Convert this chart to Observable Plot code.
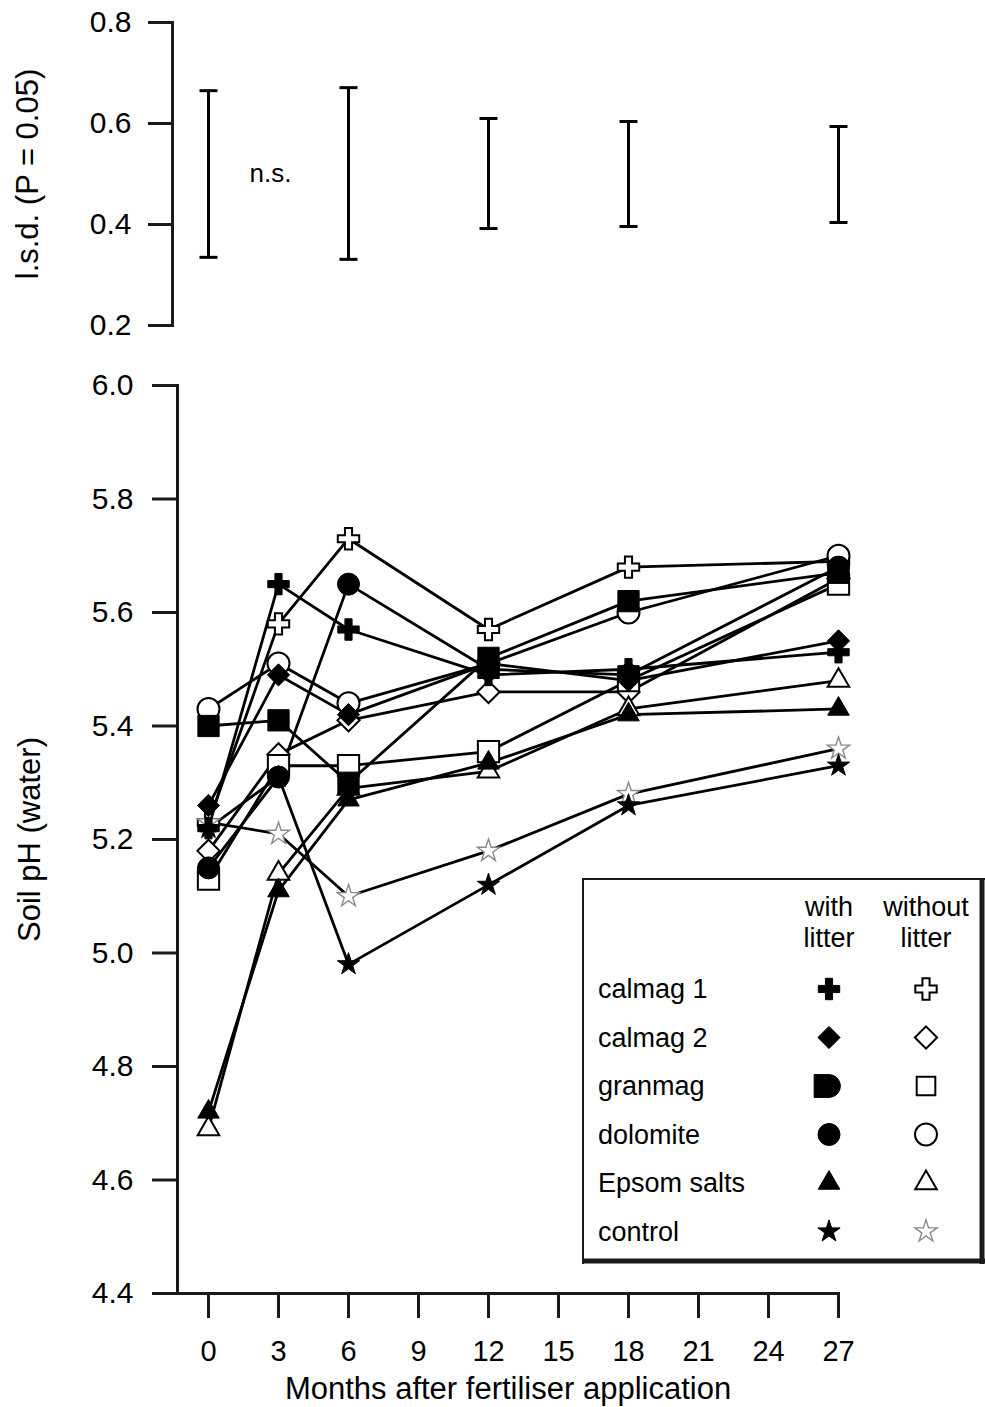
<!DOCTYPE html>
<html><head><meta charset="utf-8">
<script src="https://cdn.jsdelivr.net/npm/d3@7"></script>
<script src="https://cdn.jsdelivr.net/npm/@observablehq/plot@0.6"></script>
<style>
body{margin:0;background:#fff;font-family:"Liberation Sans",Arial,sans-serif;}
#wrap{position:relative;width:985px;height:1407px;overflow:hidden;}
#top{position:absolute;left:0;top:0;}
#bottom{position:absolute;left:0;top:345px;}
#legend{position:absolute;left:582px;top:878px;}
</style></head><body>
<div id="wrap"><div id="top"></div><div id="bottom"></div><div id="legend"></div></div>
<script>
// ---- data ----
const months = [0, 3, 6, 12, 18, 27];
const monthTicks = [0, 3, 6, 9, 12, 15, 18, 21, 24, 27];
const phTicks = [4.4, 4.6, 4.8, 5.0, 5.2, 5.4, 5.6, 5.8, 6.0];
const lsdTicks = [0.2, 0.4, 0.6, 0.8];

const calmag1With     = [5.22, 5.65, 5.57, 5.49, 5.50, 5.53];
const calmag1Without  = [5.23, 5.58, 5.73, 5.57, 5.68, 5.69];
const calmag2With     = [5.26, 5.49, 5.42, 5.51, 5.48, 5.55];
const calmag2Without  = [5.18, 5.35, 5.41, 5.46, 5.46, 5.66];
const granmagWith     = [5.40, 5.41, 5.30, 5.52, 5.62, 5.67];
const granmagWithout  = [5.13, 5.33, 5.33, 5.355, 5.48, 5.65];
const dolomiteWith    = [5.15, 5.31, 5.65, 5.50, 5.49, 5.68];
const dolomiteWithout = [5.43, 5.51, 5.44, 5.51, 5.60, 5.70];
const epsomWith       = [4.72, 5.11, 5.27, 5.335, 5.42, 5.43];
const epsomWithout    = [4.69, 5.14, 5.29, 5.32, 5.43, 5.48];
const controlWith     = [5.22, 5.31, 4.98, 5.12, 5.26, 5.33];
const controlWithout  = [5.23, 5.21, 5.10, 5.18, 5.28, 5.36];

const lsdMonths = [0, 6, 12, 18, 27];
const lsdLow  = [0.335, 0.331, 0.392, 0.396, 0.404];
const lsdHigh = [0.665, 0.671, 0.610, 0.604, 0.594];
const nsMonth = 3, nsValue = 0.5, nsText = "n.s.";

const treatments = ["calmag 1", "calmag 2", "granmag", "dolomite", "Epsom salts", "control"];
const litterHeads = [["with", "litter"], ["without", "litter"]];

// ---- symbols ----
const capSymbol = {draw(ctx, size) { const r = Math.sqrt(size / Math.PI); ctx.moveTo(-r, 0); ctx.lineTo(r, 0); }};
const dSymbol = {draw(ctx, size) {
  const s = Math.sqrt(size / Math.PI) * 0.95;
  ctx.moveTo(-s * 1.3, -s); ctx.lineTo(0, -s); ctx.arc(0, 0, s, -Math.PI / 2, Math.PI / 2); ctx.lineTo(-s * 1.3, s); ctx.closePath();
}};

const open = {fill: "white", stroke: "black", strokeWidth: 2};
const filled = {fill: "black", stroke: "black", strokeWidth: 1};
// drawing order: open markers under filled
const series = [
  {values: calmag1Without, symbol: "cross", r: 9, ...open},
  {values: calmag2Without, symbol: "diamond2", r: 10, ...open},
  {values: granmagWithout, symbol: "square", r: 12, ...open},
  {values: dolomiteWithout, symbol: "circle", r: 11, ...open},
  {values: epsomWithout, symbol: "triangle", r: 8, ...open},
  {values: controlWithout, symbol: "star", r: 7, fill: "white", stroke: "#8a8a8a", strokeWidth: 1.4},
  {values: calmag1With, symbol: "cross", r: 9, ...filled},
  {values: calmag2With, symbol: "diamond2", r: 10, ...filled},
  {values: granmagWith, symbol: "square", r: 12, ...filled},
  {values: dolomiteWith, symbol: "circle", r: 11, ...filled},
  {values: epsomWith, symbol: "triangle", r: 8, ...filled},
  {values: controlWith, symbol: "star", r: 7, ...filled}
];
const rows = series.flatMap((s, i) => s.values.map((v, j) => ({series: i, month: months[j], ph: v})));
const lsd = lsdMonths.map((m, i) => ({month: m, low: lsdLow[i], high: lsdHigh[i]}));

const font = "Liberation Sans, Arial, sans-serif";
const axisColor = "#1a1a1a";

// ---- top panel (l.s.d.) ----
const topPlot = Plot.plot({
  width: 985, height: 345,
  marginLeft: 172, marginRight: 147, marginTop: 22, marginBottom: 20,
  style: {fontFamily: font, background: "white", color: "black", overflow: "visible"},
  x: {domain: [-36 / (630 / 27), 27], axis: null},
  y: {domain: [0.2, 0.8], axis: null},
  marks: [
    Plot.frame({anchor: "left", stroke: axisColor, strokeWidth: 3}),
    Plot.axisY({ticks: lsdTicks, tickSize: 24, tickPadding: 17, tickFormat: ".1f", fontSize: 30, stroke: axisColor, strokeWidth: 3, label: null}),
    Plot.text(["l.s.d. (P = 0.05)"], {frameAnchor: "left", rotate: -90, dx: -144, fontSize: 31, textAnchor: "middle", lineAnchor: "middle"}),
    Plot.ruleX(lsd, {x: "month", y1: "low", y2: "high", stroke: "black", strokeWidth: 3}),
    Plot.dot(lsd, {x: "month", y: "low", symbol: capSymbol, r: 9, stroke: "black", strokeWidth: 3}),
    Plot.dot(lsd, {x: "month", y: "high", symbol: capSymbol, r: 9, stroke: "black", strokeWidth: 3}),
    Plot.text([nsText], {x: nsMonth, y: nsValue, dx: -8, fontSize: 26})
  ]
});
document.getElementById("top").appendChild(topPlot);

// ---- bottom panel (soil pH) ----
const bottomPlot = Plot.plot({
  width: 985, height: 1062,
  marginLeft: 177, marginRight: 147, marginTop: 40, marginBottom: 114,
  style: {fontFamily: font, background: "transparent", color: "black", overflow: "visible"},
  x: {domain: [-31 / (630 / 27), 27], axis: null},
  y: {domain: [4.4, 6.0], axis: null},
  marks: [
    Plot.frame({anchor: "left", stroke: axisColor, strokeWidth: 3}),
    Plot.frame({anchor: "bottom", stroke: axisColor, strokeWidth: 3}),
    Plot.axisY({ticks: phTicks, tickSize: 25, tickPadding: 19, tickFormat: ".1f", fontSize: 30, stroke: axisColor, strokeWidth: 3, label: null}),
    Plot.axisX({ticks: monthTicks, tickSize: 25, tickPadding: 22, fontSize: 29, stroke: axisColor, strokeWidth: 3, label: null}),
    Plot.text(["Soil pH (water)"], {frameAnchor: "left", rotate: -90, dx: -147, fontSize: 31, textAnchor: "middle", lineAnchor: "middle"}),
    Plot.text(["Months after fertiliser application"], {frameAnchor: "bottom", dy: 96, fontSize: 31, textAnchor: "middle", lineAnchor: "middle"}),
    Plot.line(rows, {x: "month", y: "ph", z: "series", stroke: "black", strokeWidth: 2.8}),
    ...series.map((s, i) => Plot.dot(rows.filter(d => d.series === i), {
      x: "month", y: "ph", symbol: s.symbol, r: s.r, fill: s.fill, stroke: s.stroke, strokeWidth: s.strokeWidth
    }))
  ]
});
document.getElementById("bottom").appendChild(bottomPlot);

// ---- legend ----
const W = 403, H = 386;
const svg = d3.select("#legend").append("svg").attr("width", W).attr("height", H)
  .style("font-family", font);
svg.append("rect").attr("x", 1).attr("y", 1).attr("width", W - 5).attr("height", H - 5).attr("fill", "white");
svg.append("line").attr("x1", 1).attr("y1", 0).attr("x2", 1).attr("y2", H).attr("stroke", axisColor).attr("stroke-width", 2);
svg.append("line").attr("x1", 0).attr("y1", 1).attr("x2", W).attr("y2", 1).attr("stroke", axisColor).attr("stroke-width", 2);
svg.append("line").attr("x1", W - 3).attr("y1", 0).attr("x2", W - 3).attr("y2", H).attr("stroke", axisColor).attr("stroke-width", 5);
svg.append("line").attr("x1", 0).attr("y1", H - 3).attr("x2", W).attr("y2", H - 3).attr("stroke", axisColor).attr("stroke-width", 5);
const colX = [247, 344];
litterHeads.forEach((lines, c) => lines.forEach((t, k) => {
  svg.append("text").attr("x", colX[c]).attr("y", 29 + k * 31).attr("text-anchor", "middle")
    .attr("dominant-baseline", "central").attr("font-size", 27).text(t);
}));
const symType = {cross: d3.symbolCross, diamond2: d3.symbolDiamond2, square: d3.symbolSquare, circle: d3.symbolCircle, triangle: d3.symbolTriangle, star: d3.symbolStar};
treatments.forEach((name, i) => {
  const y = 111 + i * 48.5;
  svg.append("text").attr("x", 16).attr("y", y).attr("dominant-baseline", "central").attr("font-size", 27).text(name);
  const w = series[6 + i], wo = series[i];
  const wType = name === "granmag" ? dSymbol : symType[w.symbol];
  svg.append("path").attr("transform", `translate(${colX[0]},${y})`)
    .attr("d", d3.symbol().type(wType).size(Math.PI * w.r * w.r)())
    .attr("fill", w.fill).attr("stroke", w.stroke).attr("stroke-width", w.strokeWidth);
  const woSize = name === "granmag" ? Math.PI * 10.5 * 10.5 : Math.PI * wo.r * wo.r;
  svg.append("path").attr("transform", `translate(${colX[1]},${y})`)
    .attr("d", d3.symbol().type(symType[wo.symbol]).size(woSize)())
    .attr("fill", wo.fill).attr("stroke", wo.stroke).attr("stroke-width", wo.strokeWidth);
});
</script>
</body></html>
